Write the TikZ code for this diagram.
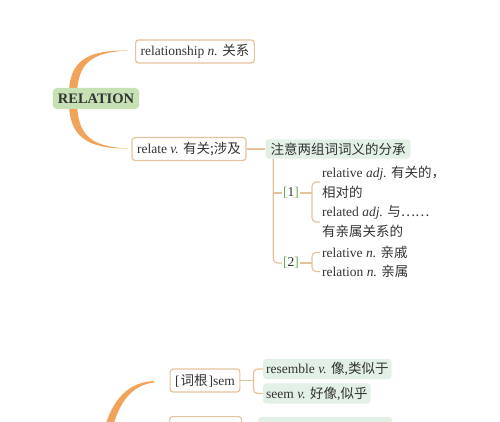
\documentclass[tikz,border=0pt]{standalone}
\usepackage{fontspec}
\setmainfont{Liberation Serif}
\newfontfamily\cjk{Noto Sans CJK SC}
\usetikzlibrary{calc}

\definecolor{branch}{HTML}{F2A35A}
\definecolor{edge}{HTML}{E5C29C}
\definecolor{leaf}{HTML}{E3F0E6}
\definecolor{rootfill}{HTML}{C6E2B4}
\definecolor{brk}{HTML}{62AE4C}
\newcommand{\zh}[1]{{\cjk #1}}

\tikzset{
  every node/.style={font=\fontsize{13.5}{20}\selectfont, text=black!80},
  wordbox/.style={draw=edge, line width=1.2pt, rounded corners=3pt, fill=white,
    inner xsep=5pt, inner ysep=2pt, minimum height=23pt},
  mainbox/.style={fill=rootfill, rounded corners=4pt, inner xsep=5pt, minimum height=21pt,
    font=\fontsize{14.5}{20}\selectfont\bfseries},
  notebox/.style={fill=leaf, rounded corners=3pt, inner xsep=5pt, minimum height=18pt},
  leafbox/.style={fill=leaf, rounded corners=3pt, inner xsep=3pt, minimum height=17pt, anchor=west},
  numlabel/.style={inner sep=1pt},
  item/.style={inner sep=2pt, anchor=west, align=left},
  link/.style={draw=edge, line width=1.2pt}
}

\begin{document}
\begin{tikzpicture}[x=1pt, y=-1pt]
    \useasboundingbox (0,0) rectangle (500,422);
    \clip (0,0) rectangle (500,422);

    % Orange branches out of the root
    \fill[branch] (69,97) .. controls (68,60) and (88,50) .. (128,50.5)
                  .. controls (92,52.5) and (77,62) .. (77,97) -- cycle;
    \fill[branch] (69,100) .. controls (68,137) and (88,149) .. (128,148.5)
                  .. controls (92,146.5) and (77,137) .. (77,100) -- cycle;
    \fill[branch] (154,381) .. controls (128,382) and (112,400) .. (104,430)
                  -- (112,430) .. controls (119,402) and (132,385) .. (154,382.5) -- cycle;

    % First group
    \node[mainbox] (relation) at (96,98.5) {RELATION};
    \node[wordbox] (ship) at (195,51.5) {relationship \textit{n.} \zh{关系}};
    \node[wordbox] (relate) at (189,149) {relate \textit{v.} \zh{有关;涉及}};
    \node[notebox] (note) at (338,149) {\zh{注意两组词词义的分承}};
    \draw[link] (relate) -- (note);

    \node[numlabel] (one) at (291,193) {\textcolor{brk}{[}1\textcolor{brk}{]}};
    \node[numlabel] (two) at (291,263) {\textcolor{brk}{[}2\textcolor{brk}{]}};
    \coordinate (trunk) at ($(note.south west)+(8,0)$);
    \draw[link, rounded corners=4pt] (trunk) |- (two.west);
    \draw[link] (trunk |- one.west) -- (one.west);

    \node[item] (adj1) at (320,182) {relative \textit{adj.} \zh{有关的，}\\\zh{相对的}};
    \node[item] (adj2) at (320,222) {related \textit{adj.} \zh{与……}\\\zh{有亲属关系的}};
    \node[item] (n1) at (320,252.5) {relative \textit{n.} \zh{亲戚}};
    \node[item] (n2) at (320,271.5) {relation \textit{n.} \zh{亲属}};

    \coordinate (b1) at ($(one.east)+(12,0)$);
    \coordinate (b2) at ($(two.east)+(12,0)$);
    \draw[link] (one.east) -- (b1);
    \draw[link, rounded corners=4pt] (adj1.west) -| (b1) |- (adj2.west);
    \draw[link] (two.east) -- (b2);
    \draw[link, rounded corners=4pt] (n1.west) -| (b2) |- (n2.west);

    % Second group
    \node[wordbox] (sem) at (205,380.5) {[\kern1pt\zh{词根}\kern1pt]sem};
    \node[leafbox] (resem) at (263,369) {resemble \textit{v.} \zh{像},\zh{类似于}};
    \node[leafbox] (seem) at (263,393.5) {seem \textit{v.} \zh{好像},\zh{似乎}};
    \coordinate (b3) at ($(sem.east)+(13,0)$);
    \draw[link] (sem.east) -- (b3);
    \draw[link, rounded corners=4pt] (resem.west) -| (b3) |- (seem.west);

    % Cut off at the bottom edge
    \node[wordbox, anchor=north west, minimum width=72pt] (root2) at (169,416) {};
    \node[notebox, anchor=north west, minimum width=134pt] (leaf2) at (258,417) {};

\end{tikzpicture}
\end{document}
